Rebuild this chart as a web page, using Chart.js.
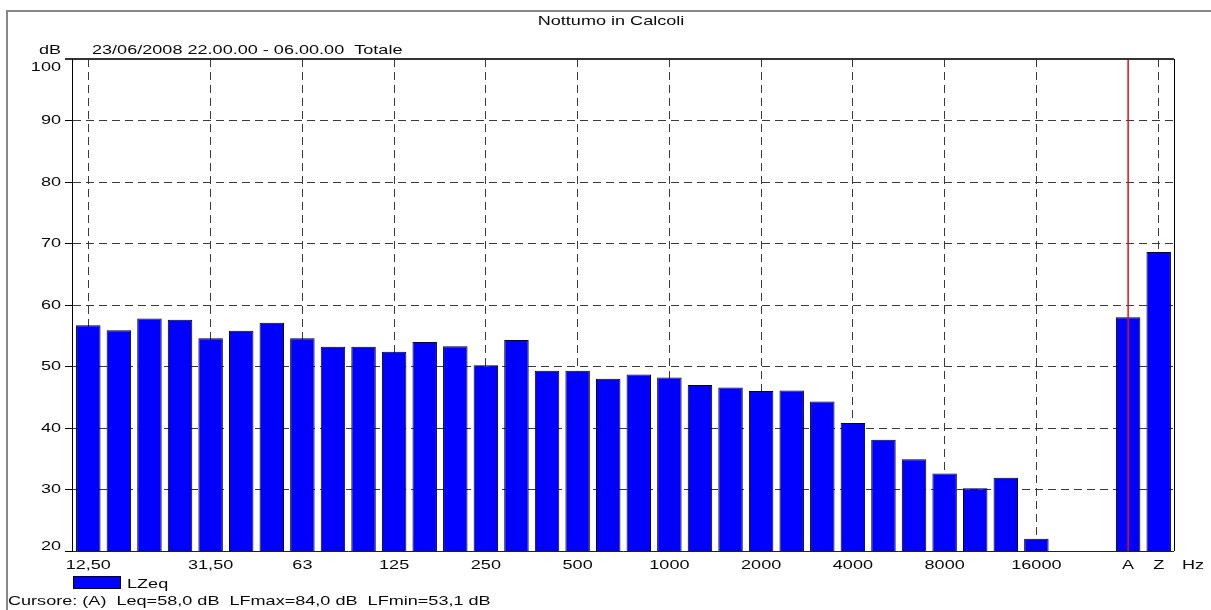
<!DOCTYPE html>
<html>
<head>
<meta charset="utf-8">
<script src="https://cdn.jsdelivr.net/npm/chart.js@4.4.1/dist/chart.umd.min.js"></script>
<style>
  html, body { margin: 0; padding: 0; background: #fff; }
  #wrap { width: 1211px; height: 610px; position: relative; }
  canvas { display: block; }
</style>
</head>
<body>
<div id="wrap"><canvas id="spectrum" width="1211" height="610"></canvas></div>
<script>
// third-octave bands, then the empty slot and the A / Z totals
let bands = ['12,50','16','20','25','31,50','40','50','63','80','100','125','160','200','250','315','400',
             '500','630','800','1000','1250','1600','2000','2500','3150','4000','5000','6300','8000',
             '10000','12500','16000','20000','','A','Z'];
let lzeq = [56.7, 55.9, 57.8, 57.6, 54.6, 55.8, 57.1, 54.6, 53.2, 53.2, 52.4, 54.0, 53.3, 50.2, 54.3, 49.3,
            49.3, 48.0, 48.7, 48.2, 47.0, 46.6, 46.0, 46.1, 44.3, 40.8, 38.1, 34.9, 32.6,
            30.2, 31.9, 22.0, null, null, 58.0, 68.6];
let shownBands = ['12,50','31,50','63','125','250','500','1000','2000','4000','8000','16000','A','Z'];
let yTicks = [100, 90, 80, 70, 60, 50, 40, 30, 20];

let titleText = 'Nottumo in Calcoli';
let subTitle = '23/06/2008 22.00.00 - 06.00.00  Totale';
let cursorText = 'Cursore: (A)  Leq=58,0 dB  LFmax=84,0 dB  LFmin=53,1 dB';
let cursorBand = 'A';

const FONT = '13px "Liberation Sans", Arial, sans-serif';
const SX = 1.39;   // the print font is a wide one

function wideText(ctx, text, x, y, align, base){
    ctx.save();
    ctx.translate(x, y);
    ctx.scale(SX, 1);
    ctx.font = FONT;
    ctx.fillStyle = '#0a0a0a';
    ctx.textAlign = align || 'left';
    ctx.textBaseline = base || 'alphabetic';
    ctx.fillText(text, 0, 0);
    ctx.restore();
}

const framePlugin = {
    id: 'frame',
    afterDatasetsDraw(chart){
        const c = chart.ctx, a = chart.chartArea;
        const xs = chart.scales.x;
        c.save();
        // cursor line
        let cx = xs.getPixelForValue(bands.indexOf(cursorBand));
        c.strokeStyle = '#e01010';
        c.lineWidth = 1.5;
        c.beginPath(); c.moveTo(cx, a.top); c.lineTo(cx, a.bottom); c.stroke();
        // plot box
        c.strokeStyle = '#333';
        c.lineWidth = 2;
        c.beginPath(); c.moveTo(a.left - 8, a.top); c.lineTo(a.right, a.top); c.stroke();
        c.strokeStyle = '#000';
        c.lineWidth = 1;
        c.beginPath(); c.moveTo(a.right + 0.5, a.top); c.lineTo(a.right + 0.5, a.bottom); c.stroke();
        c.beginPath(); c.moveTo(a.left - 0.5, a.top); c.lineTo(a.left - 0.5, a.bottom); c.stroke();
        c.strokeStyle = '#222';
        c.beginPath(); c.moveTo(a.left, a.bottom + 0.5); c.lineTo(a.right, a.bottom + 0.5); c.stroke();
        c.restore();
    },
    afterDraw(chart){
        const c = chart.ctx, a = chart.chartArea;
        const xs = chart.scales.x, ys = chart.scales.y;
        c.save();
        // outer sheet border
        c.strokeStyle = '#888';
        c.lineWidth = 2;
        c.beginPath(); c.moveTo(7, 610); c.lineTo(7, 11); c.lineTo(1211, 11); c.stroke();

        wideText(c, titleText, 611, 25, 'center');
        wideText(c, 'dB', 61, 54, 'right');
        wideText(c, subTitle, 92, 54, 'left');

        yTicks.forEach(v => {
            let py = ys.getPixelForValue(v);
            py = Math.min(Math.max(py, a.top + 8), a.bottom - 5);
            wideText(c, String(v), 61, py, 'right', 'middle');
        });
        shownBands.forEach(b => {
            let px = xs.getPixelForValue(bands.indexOf(b));
            wideText(c, b, px, 565, 'center', 'middle');
        });
        wideText(c, 'Hz', 1193, 565, 'center', 'middle');

        // legend
        c.fillStyle = '#0000ff';
        c.fillRect(a.left, 576, 48, 13);
        c.strokeStyle = '#000';
        c.lineWidth = 1;
        c.strokeRect(a.left + 0.5, 576.5, 47, 12);
        wideText(c, chart.data.datasets[0].label, 127, 588, 'left');

        wideText(c, cursorText, 8, 605, 'left');
        c.restore();
    }
};

let ctx = document.getElementById('spectrum').getContext('2d');

let chart = new Chart(ctx, {
    type: 'bar',
    data: {
        labels: bands,
        datasets: [{
            label: 'LZeq',
            data: lzeq,
            backgroundColor: '#0000ff',
            borderColor: '#000',
            borderWidth: 1,
            barPercentage: 0.8,
            categoryPercentage: 1.0
        }]
    },
    options: {
        responsive: false,
        animation: false,
        devicePixelRatio: 1,
        layout: { padding: { top: 59, right: 37, left: 0, bottom: 0 } },
        plugins: {
            legend: { display: false },
            title: { display: false },
            tooltip: { enabled: false }
        },
        scales: {
            x: {
                type: 'category',
                offset: true,
                ticks: { display: false, autoSkip: false },
                grid: {
                    offset: false,
                    drawTicks: false,
                    color: c => {
                        let b = bands[c.index];
                        return (shownBands.includes(b) && b !== cursorBand) ? '#3a3a3a' : 'rgba(0,0,0,0)';
                    },
                    lineWidth: 1
                },
                border: { display: false, dash: [8, 5] },
                afterFit: s => { s.height = 59; }
            },
            y: {
                min: 20,
                max: 100,
                ticks: { display: false, stepSize: 10 },
                grid: {
                    color: c => (c.tick && (c.tick.value === 100 || c.tick.value === 20)) ? 'rgba(0,0,0,0)' : '#3a3a3a',
                    tickColor: '#000',
                    tickLength: 8,
                    lineWidth: 1
                },
                border: { display: false, dash: [8, 5] },
                afterFit: s => { s.width = 73; }
            }
        }
    },
    plugins: [framePlugin]
});
</script>
</body>
</html>
